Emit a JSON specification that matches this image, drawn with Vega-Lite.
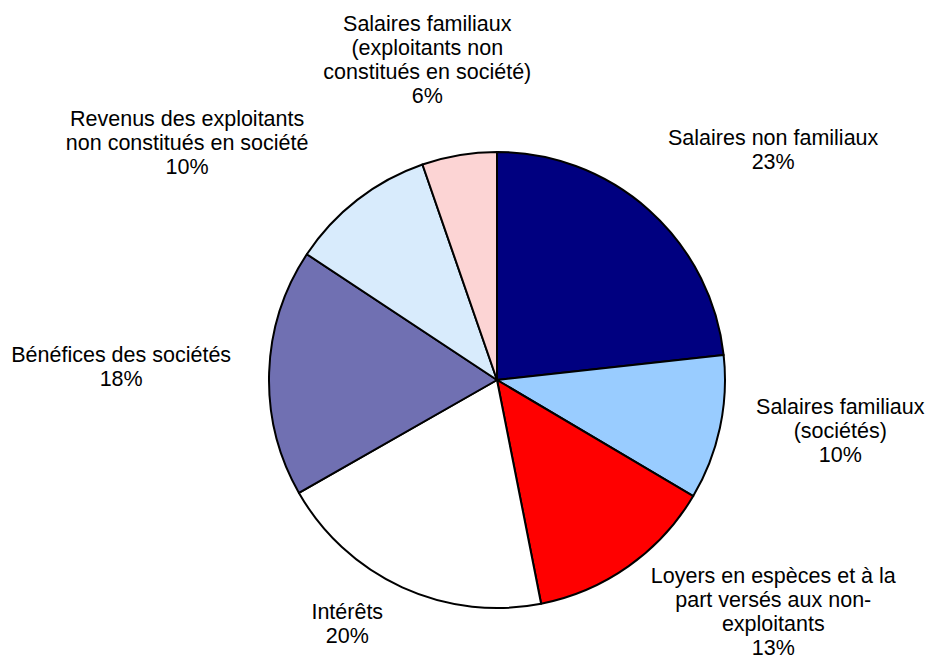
{
  "$schema": "https://vega.github.io/schema/vega-lite/v6.json",
  "width": 864,
  "height": 560,
  "autosize": "none",
  "padding": {"left": 65, "top": 100, "right": 0, "bottom": 0},
  "background": "white",
  "config": {"view": {"stroke": null}, "text": {"font": "Liberation Sans", "fontSize": 21.5, "lineHeight": 24, "color": "#000000"}},
  "data": {"values": [
    {"cat": "Salaires non familiaux", "value": 23.25, "order": 1, "label": ["Salaires non familiaux", "23%"]},
    {"cat": "Salaires familiaux (sociétés)", "value": 10.25, "order": 2, "label": ["Salaires familiaux", "(sociétés)", "10%"]},
    {"cat": "Loyers en espèces et à la part versés aux non-exploitants", "value": 13.4, "order": 3, "label": ["Loyers en espèces et à la", "part versés aux non-", "exploitants", "13%"]},
    {"cat": "Intérêts", "value": 19.85, "order": 4, "label": ["Intérêts", "20%"]},
    {"cat": "Bénéfices des sociétés", "value": 17.55, "order": 5, "label": ["Bénéfices des sociétés", "18%"]},
    {"cat": "Revenus des exploitants non constitués en société", "value": 10.4, "order": 6, "label": ["Revenus des exploitants", "non constitués en société", "10%"]},
    {"cat": "Salaires familiaux (exploitants non constitués en société)", "value": 5.3, "order": 7, "label": ["Salaires familiaux", "(exploitants non", "constitués en société)", "6%"]}
  ]},
  "encoding": {
    "theta": {"field": "value", "type": "quantitative", "stack": true},
    "order": {"field": "order", "type": "quantitative"}
  },
  "layer": [
    {
      "mark": {"type": "arc", "outerRadius": 228, "stroke": "#000000", "strokeWidth": 2, "strokeJoin": "round"},
      "encoding": {
        "color": {
          "field": "cat", "type": "nominal", "legend": null,
          "scale": {
            "domain": ["Salaires non familiaux", "Salaires familiaux (sociétés)", "Loyers en espèces et à la part versés aux non-exploitants", "Intérêts", "Bénéfices des sociétés", "Revenus des exploitants non constitués en société", "Salaires familiaux (exploitants non constitués en société)"],
            "range": ["#000080", "#99ccff", "#ff0000", "#ffffff", "#7070b2", "#d8ebfc", "#fcd4d4"]
          }
        }
      }
    },
    {
      "mark": {"type": "text", "radius": 300, "dx": 76, "dy": -18, "align": "center", "baseline": "middle"},
      "encoding": {"text": {"condition": {"test": "datum.order === 1", "field": "label", "type": "nominal"}, "value": ""}}
    },
    {
      "mark": {"type": "text", "radius": 300, "dx": 50, "dy": -35, "align": "center", "baseline": "middle"},
      "encoding": {"text": {"condition": {"test": "datum.order === 2", "field": "label", "type": "nominal"}, "value": ""}}
    },
    {
      "mark": {"type": "text", "radius": 300, "dx": 103, "dy": -48, "align": "center", "baseline": "middle"},
      "encoding": {"text": {"condition": {"test": "datum.order === 3", "field": "label", "type": "nominal"}, "value": ""}}
    },
    {
      "mark": {"type": "text", "radius": 300, "dx": -25, "dy": -40, "align": "center", "baseline": "middle"},
      "encoding": {"text": {"condition": {"test": "datum.order === 4", "field": "label", "type": "nominal"}, "value": ""}}
    },
    {
      "mark": {"type": "text", "radius": 300, "dx": -76, "dy": -14, "align": "center", "baseline": "middle"},
      "encoding": {"text": {"condition": {"test": "datum.order === 5", "field": "label", "type": "nominal"}, "value": ""}}
    },
    {
      "mark": {"type": "text", "radius": 300, "dx": -126, "dy": -23, "align": "center", "baseline": "middle"},
      "encoding": {"text": {"condition": {"test": "datum.order === 6", "field": "label", "type": "nominal"}, "value": ""}}
    },
    {
      "mark": {"type": "text", "radius": 300, "dx": -20, "dy": -59, "align": "center", "baseline": "middle"},
      "encoding": {"text": {"condition": {"test": "datum.order === 7", "field": "label", "type": "nominal"}, "value": ""}}
    }
  ]
}
